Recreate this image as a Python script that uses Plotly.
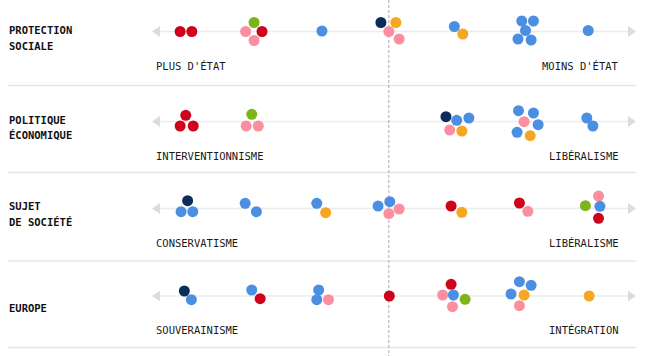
import plotly.graph_objects as go

# ---------------- data ----------------
# positions on a 0-100 scale (0 = left end of the axis, 100 = right end)
# dy = small vertical stacking offset of each dot (beeswarm), party code
row_titles = [["PROTECTION", "SOCIALE"], ["POLITIQUE", "ÉCONOMIQUE"], ["SUJET", "DE SOCIÉTÉ"], ["EUROPE"]]
left_labels = ["PLUS D'ÉTAT", "INTERVENTIONNISME", "CONSERVATISME", "SOUVERAINISME"]
right_labels = ["MOINS D'ÉTAT", "LIBÉRALISME", "LIBÉRALISME", "INTÉGRATION"]

social_x = [4.3, 6.8, 20.1, 18.3, 21.8, 20.1, 34.6, 47.2, 50.4, 48.9, 51.1, 62.9, 64.7, 77.3, 79.8, 78.1, 76.5, 79.3, 91.5]
social_dy = [0, 0, -9, 0, 0, 9, -0.5, -9, -9, 0, 7.5, -5, 2.5, -10.5, -10.5, -1, 7.5, 8.5, -1]
social_party = ["R", "R", "G", "P", "R", "P", "B", "N", "O", "P", "P", "B", "O", "B", "B", "B", "B", "B", "B"]

eco_x = [5.5, 4.3, 7.1, 19.6, 18.4, 21.0, 61.1, 63.4, 66.0, 61.9, 64.5, 76.6, 79.8, 77.8, 80.8, 76.3, 79.1, 91.2, 92.5]
eco_dy = [-6.2, 4.5, 4.5, -7.2, 4.5, 4.5, -4.8, -1.2, -3.5, 8.5, 9.5, -10.8, -8.5, 0.2, 3.2, 10.8, 14.2, -3.5, 4.5]
eco_party = ["R", "R", "R", "G", "P", "P", "N", "B", "B", "P", "O", "B", "B", "P", "B", "B", "O", "B", "B"]

society_x = [5.9, 4.5, 7.0, 18.2, 20.6, 33.5, 35.4, 46.6, 49.1, 48.9, 51.1, 62.2, 64.5, 76.8, 78.6, 90.9, 93.7, 94.0, 93.7]
society_dy = [-7.8, 3.2, 3.2, -5.2, 3.2, -5.2, 4.2, -2.5, -6.8, 5.2, 0.5, -2.5, 3.8, -5.5, 2.8, -2.8, -12.5, -2.2, 9.8]
society_party = ["N", "B", "B", "B", "B", "B", "O", "B", "B", "P", "P", "R", "O", "R", "P", "G", "P", "B", "R"]

europe_x = [5.2, 6.7, 19.6, 21.4, 33.9, 33.5, 36.0, 49.0, 62.2, 60.4, 62.7, 65.2, 62.5, 76.8, 79.3, 75.0, 77.8, 76.8, 91.7]
europe_dy = [-5, 3.7, -6, 2.7, -6, 3.7, 3.7, 0, -11.7, -1, -1, 3.3, 10.7, -14.3, -10.7, -2, -1, 9.7, 0]
europe_party = ["N", "B", "B", "R", "B", "B", "P", "R", "R", "P", "B", "G", "P", "B", "B", "B", "O", "P", "O"]

center_value = 48.9

# ---------------- styles / layout ----------------
party_colors = {"R": "#d0021b", "P": "#fb8f9f", "G": "#7db518", "B": "#4a8fe2",
                "N": "#0b2d5c", "O": "#f5a623"}

W, H = 654, 356
AX_L, AX_R = 160, 628               # pixel ends of the scale
PX = (AX_R - AX_L) / 100.0
row_y = [31.5, 121.5, 208.5, 296]
sep_y = [85.5, 172.5, 261, 347.5]
title_y = [[30.3, 45.7], [120, 135], [206, 222.3], [308.3]]

rows = [(social_x, social_dy, social_party), (eco_x, eco_dy, eco_party),
        (society_x, society_dy, society_party), (europe_x, europe_dy, europe_party)]

fig = go.Figure()
for (xs, dys, ps), ry in zip(rows, row_y):
    fig.add_trace(go.Scatter(
        x=xs, y=[ry + d for d in dys], mode="markers",
        marker=dict(size=11, color=[party_colors[p] for p in ps], line=dict(width=0)),
        hoverinfo="skip", showlegend=False))

shapes = []
ah = 1.7  # arrow length in scale units
for ry, sy in zip(row_y, sep_y):
    shapes.append(dict(type="line", xref="x", yref="y", x0=0, x1=100, y0=ry, y1=ry,
                       line=dict(color="#ececec", width=1.5), layer="below"))
    shapes.append(dict(type="path", xref="x", yref="y",
                       path=f"M {-ah},{ry} L 0,{ry-5.5} L 0,{ry+5.5} Z",
                       fillcolor="#dcdcdc", line=dict(width=0), layer="below"))
    shapes.append(dict(type="path", xref="x", yref="y",
                       path=f"M {100+ah},{ry} L 100,{ry-5.5} L 100,{ry+5.5} Z",
                       fillcolor="#dcdcdc", line=dict(width=0), layer="below"))
    shapes.append(dict(type="line", xref="paper", yref="y", x0=8 / W, x1=636 / W, y0=sy, y1=sy,
                       line=dict(color="#e6e6e6", width=1.5), layer="below"))
shapes.append(dict(type="line", xref="x", yref="y", x0=center_value, x1=center_value, y0=0, y1=H,
                   line=dict(color="#aaaaaa", width=1, dash="3px,2px"), layer="below"))

annotations = []
font_b = dict(family="DejaVu Sans Mono", size=10.5, color="#111111")
font_r = dict(family="DejaVu Sans Mono", size=10.5, color="#1a1a1a")
for lines, ys in zip(row_titles, title_y):
    for t, y in zip(lines, ys):
        annotations.append(dict(text=f"<b>{t}</b>", xref="paper", yref="y", x=7 / W, y=y,
                                xanchor="left", yanchor="middle", showarrow=False, font=font_b))
for ll, rl, ry in zip(left_labels, right_labels, row_y):
    annotations.append(dict(text=ll, xref="paper", yref="y", x=154 / W, y=ry + 34,
                            xanchor="left", yanchor="middle", showarrow=False, font=font_r))
    annotations.append(dict(text=rl, xref="paper", yref="y", x=621 / W, y=ry + 34,
                            xanchor="right", yanchor="middle", showarrow=False, font=font_r))

fig.update_layout(
    width=W, height=H, margin=dict(l=0, r=0, t=0, b=0),
    paper_bgcolor="white", plot_bgcolor="white",
    xaxis=dict(range=[(0 - AX_L) / PX, (W - AX_L) / PX], visible=False, fixedrange=True),
    yaxis=dict(range=[H, 0], visible=False, fixedrange=True),
    shapes=shapes, annotations=annotations)

fig.write_html("out.html", config={"displayModeBar": False},
               post_script="document.body.style.margin='0';document.body.style.padding='0';")
